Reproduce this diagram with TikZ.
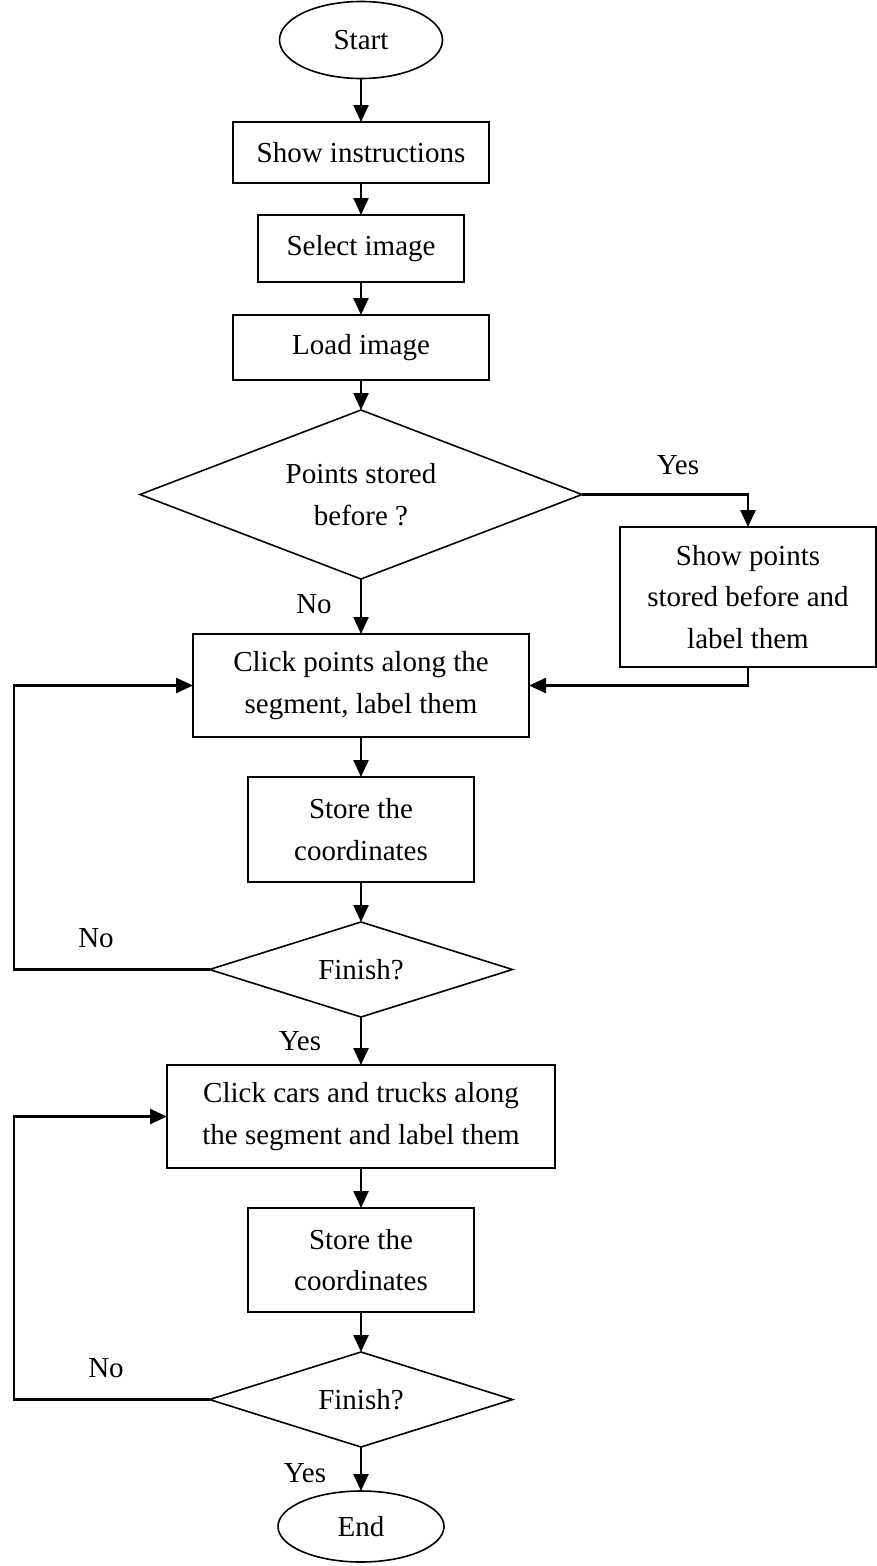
\documentclass[tikz,border=0pt]{standalone}
\usepackage{fontspec}
\setmainfont{Liberation Serif}
\usetikzlibrary{shapes.geometric,arrows.meta}
\begin{document}
\begin{tikzpicture}[x=1pt,y=-1pt,
  every node/.style={font=\fontsize{29}{41.5}\selectfont, inner sep=0pt, outer sep=0pt},
  proc/.style={draw, line width=1.6pt, align=center},
  term/.style={draw, ellipse, line width=1.6pt},
  decide/.style={draw, diamond, line width=1.6pt, align=center, aspect=2.6},
  flow/.style={line width=2.4pt, -{Triangle[length=17pt,width=15pt]}},
  tag/.style={}]
\useasboundingbox (0,0) rectangle (877,1566);
\node[term, minimum width=163, minimum height=77] (start) at (361,40) {Start};
\node[proc, minimum width=256, minimum height=61] (instr) at (361,152.5) {Show instructions};
\node[proc, minimum width=206, minimum height=67] (select) at (361,248.5) {Select image};
\node[proc, minimum width=256, minimum height=65] (load) at (361,347.5) {Load image};
\node[decide, minimum width=442, minimum height=169] (stored) at (361,494.5) {Points stored\\before ?};
\node[proc, minimum width=256, minimum height=140] (showpts) at (748,597) {Show points\\stored before and\\label them};
\node[proc, minimum width=336, minimum height=103] (clickpts) at (361,685.5) {Click points along the\\segment, label them};
\node[proc, minimum width=226, minimum height=105] (storeA) at (361,829.5) {Store the\\coordinates};
\node[decide, minimum width=303, minimum height=95, aspect=3.2] (finA) at (361,969.5) {Finish?};
\node[proc, minimum width=388, minimum height=103] (clickcars) at (361,1116.5) {Click cars and trucks along\\the segment and label them};
\node[proc, minimum width=226, minimum height=104] (storeB) at (361,1260) {Store the\\coordinates};
\node[decide, minimum width=303, minimum height=95, aspect=3.2] (finB) at (361,1399.5) {Finish?};
\node[term, minimum width=166, minimum height=71] (end) at (361,1526.5) {End};

\node[tag] (yesA) at (678,465) {Yes};
\node[tag] (noA) at (314,604) {No};
\node[tag] (noB) at (96,938) {No};
\node[tag] (yesB) at (300,1041) {Yes};
\node[tag] (noC) at (106,1368) {No};
\node[tag] (yesC) at (305,1473) {Yes};

\coordinate (loopA) at (14,969.5);
\coordinate (loopB) at (14,1399.5);

\draw[flow] (start) -- (instr);
\draw[flow] (instr) -- (select);
\draw[flow] (select) -- (load);
\draw[flow] (load) -- (stored);
\draw[flow] (stored.east) -| (showpts.north);
\draw[flow] (showpts.south) |- (clickpts.east);
\draw[flow] (stored) -- (clickpts);
\draw[flow] (clickpts) -- (storeA);
\draw[flow] (storeA) -- (finA);
\draw[flow] (finA.west) -- (loopA) |- (clickpts.west);
\draw[flow] (finA) -- (clickcars);
\draw[flow] (clickcars) -- (storeB);
\draw[flow] (storeB) -- (finB);
\draw[flow] (finB.west) -- (loopB) |- (clickcars.west);
\draw[flow] (finB) -- (end);
\end{tikzpicture}
\end{document}
